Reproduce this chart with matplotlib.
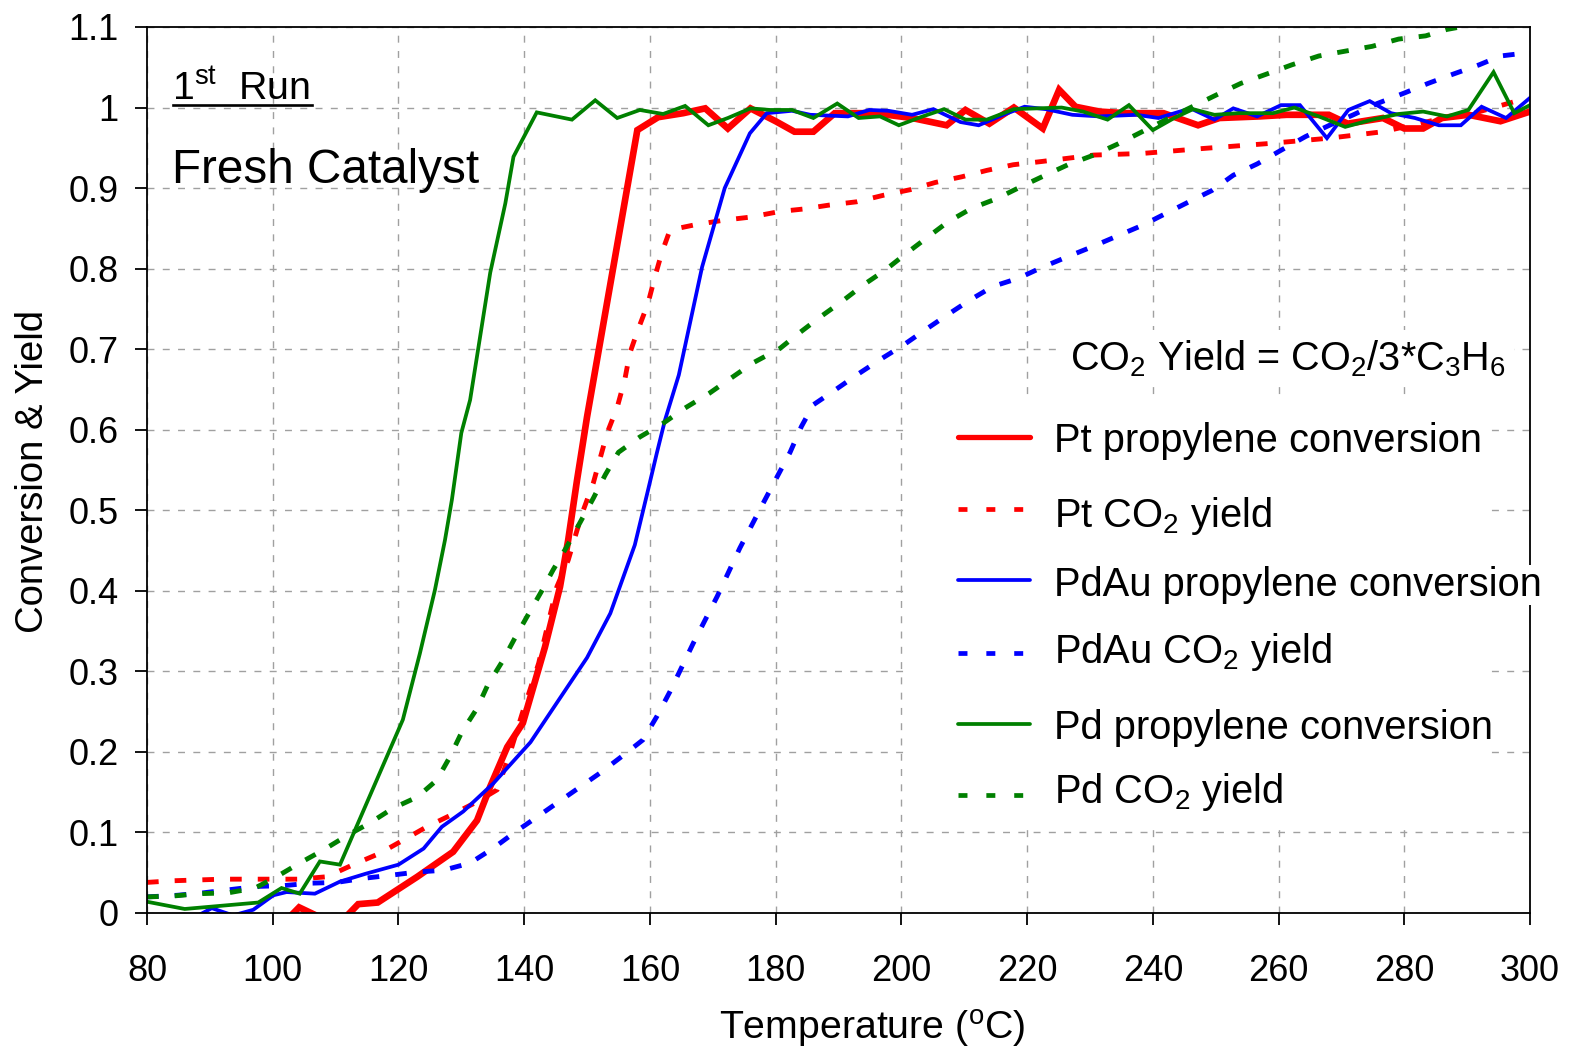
import matplotlib
matplotlib.use("Agg")
import matplotlib.pyplot as plt
from matplotlib.lines import Line2D
from matplotlib.patches import Rectangle

plt.rcParams['font.family'] = ['Liberation Sans', 'DejaVu Sans']
plt.rcParams['mathtext.fontset'] = 'custom'
plt.rcParams['mathtext.rm'] = 'Liberation Sans'
plt.rcParams['mathtext.default'] = 'regular'

# ---------------- data ----------------
pt_conv_T = [100.8, 104.2, 107.7, 111.0, 113.6, 116.7, 123.0, 128.7, 132.5, 134.6, 137.3, 139.8,
             143.3, 145.7, 147.0, 148.4, 150.0, 158.0, 161.3, 165.3, 168.8, 172.4, 176.0, 180.0,
             183.0, 186.0, 189.4, 195.7, 201.7, 207.2, 210.2, 214.0, 217.9, 222.5, 225.1, 227.7,
             231.5, 235.7, 241.7, 247.2, 250.6, 257.0, 261.3, 268.0, 271.0, 276.6, 280.0, 283.0,
             286.0, 290.2, 295.3, 300.0]
pt_conv = [-0.020, 0.007, -0.006, -0.010, 0.011, 0.013, 0.045, 0.076, 0.115, 0.157, 0.206, 0.236,
           0.330, 0.405, 0.463, 0.537, 0.616, 0.972, 0.988, 0.993, 0.999, 0.974, 0.999, 0.983,
           0.970, 0.970, 0.993, 0.993, 0.987, 0.978, 0.997, 0.980, 1.000, 0.974, 1.022, 1.001,
           0.995, 0.993, 0.993, 0.978, 0.987, 0.989, 0.991, 0.991, 0.980, 0.987, 0.974, 0.974,
           0.987, 0.991, 0.983, 0.995]

pt_yield_T = [80.0, 84.0, 88.0, 92.0, 96.0, 100.0, 104.0, 108.6, 112.8, 117.0, 120.2, 124.5, 128.2,
              132.5, 135.7, 137.8, 139.7, 142.3, 143.3, 145.2, 147.0, 148.4, 149.4, 151.0, 153.2,
              154.8, 156.0, 156.8, 158.1, 159.7, 160.8, 161.9, 163.2, 166.9, 171.6, 176.0, 180.7,
              184.4, 188.6, 192.9, 197.1, 201.4, 205.4, 209.6, 213.6, 217.8, 222.3, 230.6, 238.3,
              247.7, 257.9, 268.1, 276.6, 285.1, 292.0, 298.7]
pt_yield = [0.038, 0.040, 0.041, 0.042, 0.042, 0.042, 0.042, 0.045, 0.060, 0.074, 0.088, 0.107, 0.121,
            0.138, 0.153, 0.200, 0.248, 0.310, 0.343, 0.405, 0.438, 0.475, 0.500, 0.534, 0.596,
            0.628, 0.662, 0.695, 0.724, 0.757, 0.790, 0.820, 0.848, 0.854, 0.860, 0.864, 0.871,
            0.874, 0.879, 0.883, 0.891, 0.898, 0.907, 0.914, 0.922, 0.929, 0.933, 0.941, 0.943,
            0.949, 0.955, 0.962, 0.970, 0.985, 0.995, 1.010]

pdau_conv_T = [80.0, 86.5, 90.3, 93.7, 96.9, 100.1, 102.2, 106.7, 110.7, 114.9, 120.0, 124.0, 126.9,
               130.3, 135.1, 141.0, 150.0, 153.7, 157.6, 159.7, 161.1, 162.4, 164.6, 168.3, 171.9,
               175.9, 178.6, 182.6, 185.5, 191.5, 194.9, 197.9, 201.7, 205.1, 209.4, 212.3, 216.2,
               219.6, 223.0, 227.2, 231.5, 237.4, 240.9, 246.0, 249.8, 252.8, 256.6, 260.4, 263.4,
               267.7, 271.1, 274.5, 277.9, 281.7, 285.5, 289.0, 292.3, 296.2, 300.0]
pdau_conv = [-0.010, -0.010, 0.006, -0.003, 0.004, 0.022, 0.026, 0.024, 0.039, 0.049, 0.060, 0.080, 0.107,
             0.126, 0.161, 0.212, 0.317, 0.372, 0.457, 0.525, 0.571, 0.612, 0.668, 0.802, 0.900,
             0.968, 0.993, 0.996, 0.991, 0.989, 0.997, 0.996, 0.991, 0.998, 0.982, 0.978, 0.991,
             1.001, 0.998, 0.991, 0.989, 0.991, 0.987, 0.999, 0.985, 0.999, 0.989, 1.003, 1.003,
             0.962, 0.997, 1.008, 0.993, 0.987, 0.978, 0.978, 1.001, 0.987, 1.012]

pdau_yield_T = [80.0, 84.8, 88.9, 93.2, 97.5, 101.7, 106.0, 110.2, 114.4, 118.9, 123.1, 127.1, 131.4,
                135.0, 138.3, 142.0, 152.1, 155.8, 158.9, 161.1, 163.2, 166.9, 170.7, 174.3, 178.3,
                182.3, 184.1, 186.0, 189.4, 192.9, 196.6, 200.3, 203.8, 207.2, 210.9, 214.6, 218.6,
                222.5, 226.5, 230.3, 234.2, 238.4, 242.2, 245.5, 249.4, 252.8, 256.6, 260.4, 264.3,
                268.1, 271.9, 275.7, 280.0, 283.8, 287.6, 291.9, 295.3, 299.6]
pdau_yield = [0.020, 0.022, 0.025, 0.029, 0.033, 0.034, 0.037, 0.038, 0.043, 0.047, 0.051, 0.053, 0.062,
              0.080, 0.099, 0.119, 0.174, 0.196, 0.215, 0.244, 0.275, 0.335, 0.393, 0.453, 0.513,
              0.572, 0.604, 0.631, 0.649, 0.668, 0.687, 0.705, 0.724, 0.742, 0.761, 0.778, 0.788,
              0.802, 0.815, 0.827, 0.840, 0.854, 0.869, 0.882, 0.897, 0.916, 0.930, 0.947, 0.964,
              0.978, 0.991, 1.005, 1.018, 1.030, 1.041, 1.053, 1.064, 1.068]

pd_conv_T = [80.0, 86.0, 97.7, 101.4, 104.3, 107.5, 110.7, 120.7, 123.4, 125.8, 127.4, 128.5, 130.0,
             131.4, 134.6, 137.0, 138.3, 142.0, 147.6, 151.3, 154.8, 158.4, 162.1, 165.6, 169.3,
             172.4, 176.0, 179.1, 182.6, 186.0, 189.8, 193.2, 196.6, 199.6, 203.4, 206.8, 210.2,
             213.6, 217.9, 225.5, 228.9, 232.8, 236.2, 240.0, 243.4, 246.4, 249.8, 253.6, 259.1,
             262.5, 266.4, 270.6, 274.9, 279.1, 283.0, 286.8, 290.2, 294.2, 297.5, 300.0]
pd_conv = [0.014, 0.005, 0.013, 0.031, 0.024, 0.064, 0.060, 0.240, 0.322, 0.401, 0.463, 0.513, 0.596,
           0.637, 0.795, 0.881, 0.939, 0.994, 0.985, 1.009, 0.987, 0.997, 0.992, 1.002, 0.978,
           0.987, 0.999, 0.997, 0.997, 0.987, 1.005, 0.987, 0.989, 0.978, 0.989, 0.998, 0.985,
           0.985, 0.998, 1.000, 0.995, 0.985, 1.003, 0.972, 0.987, 0.998, 0.991, 0.993, 0.993,
           1.000, 0.989, 0.976, 0.985, 0.992, 0.995, 0.989, 0.997, 1.044, 0.993, 1.003]

pd_yield_T = [80.0, 84.0, 88.4, 92.9, 97.2, 100.6, 104.3, 108.0, 112.0, 115.5, 119.1, 123.0, 126.1,
              128.2, 130.1, 132.5, 134.2, 136.5, 138.5, 140.6, 142.8, 144.6, 146.8, 148.9, 151.0,
              152.9, 155.0, 158.4, 162.1, 165.6, 169.4, 172.7, 176.4, 180.7, 183.4, 187.1, 190.5,
              194.0, 197.4, 200.8, 204.0, 207.4, 211.2, 215.2, 219.1, 222.9, 226.5, 230.6, 234.5,
              238.3, 242.1, 246.0, 250.2, 254.0, 257.9, 262.1, 266.4, 270.6, 274.9, 279.1, 283.4,
              286.8, 291.0, 295.0]
pd_yield = [0.020, 0.021, 0.024, 0.025, 0.031, 0.045, 0.062, 0.078, 0.097, 0.112, 0.130, 0.144, 0.165,
            0.194, 0.225, 0.254, 0.283, 0.312, 0.341, 0.370, 0.400, 0.426, 0.455, 0.485, 0.515,
            0.544, 0.572, 0.591, 0.608, 0.627, 0.645, 0.663, 0.683, 0.701, 0.718, 0.740, 0.759,
            0.780, 0.798, 0.819, 0.838, 0.858, 0.875, 0.887, 0.902, 0.916, 0.929, 0.941, 0.955,
            0.970, 0.985, 1.000, 1.016, 1.030, 1.041, 1.053, 1.064, 1.070, 1.076, 1.085, 1.089,
            1.097, 1.103, 1.110]

labels = ['Pt propylene conversion', 'Pt CO$_2$ yield', 'PdAu propylene conversion',
          'PdAu CO$_2$ yield', 'Pd propylene conversion', 'Pd CO$_2$ yield']
x_ticks = [80, 100, 120, 140, 160, 180, 200, 220, 240, 260, 280, 300]
y_ticks = [0, 0.1, 0.2, 0.3, 0.4, 0.5, 0.6, 0.7, 0.8, 0.9, 1.0, 1.1]
y_tick_labels = ['0', '0.1', '0.2', '0.3', '0.4', '0.5', '0.6', '0.7', '0.8', '0.9', '1', '1.1']

# ---------------- figure ----------------
W, H = 1570, 1050
fig = plt.figure(figsize=(W / 100, H / 100), dpi=100)
AX_L, AX_R, AX_T, AX_B = 147, 1530, 27, 913
ax = fig.add_axes([AX_L / W, 1 - AX_B / H, (AX_R - AX_L) / W, (AX_B - AX_T) / H])


def axf(px, py):
    return (px - AX_L) / (AX_R - AX_L), (AX_B - py) / (AX_B - AX_T)


dot = (0, (2.4, 3.3))
series = [
    (pt_conv_T, pt_conv, 'red', 4.8, '-'),
    (pt_yield_T, pt_yield, 'red', 3.5, dot),
    (pdau_conv_T, pdau_conv, 'blue', 2.7, '-'),
    (pdau_yield_T, pdau_yield, 'blue', 3.5, dot),
    (pd_conv_T, pd_conv, 'green', 2.7, '-'),
    (pd_yield_T, pd_yield, 'green', 3.5, dot),
]
for T, v, c, lw, ls in series:
    ax.plot(T, v, color=c, lw=lw, ls=ls, solid_joinstyle='miter', dash_capstyle='butt', zorder=2)

ax.set_xlim(80, 300)
ax.set_ylim(0, 1.1)
ax.set_xticks(x_ticks)
ax.set_yticks(y_ticks)
ax.set_yticklabels(y_tick_labels)
ax.grid(True, color='#a0a0a0', linestyle=(0, (5, 6)), linewidth=1.0)
ax.tick_params(axis='both', direction='out', length=8.6, width=1.3, labelsize=26)
ax.tick_params(axis='x', pad=21)
ax.tick_params(axis='y', pad=12)
for s in ax.spines.values():
    s.set_linewidth(1.3)
    s.set_color('black')

ax.set_xlabel('Temperature ($^{o}$C)', fontsize=28.3)
ax.xaxis.set_label_coords(*axf(872.5, 1040))
ax.xaxis.label.set_va('baseline')
ax.set_ylabel('Conversion & Yield', fontsize=27.5)
ax.yaxis.set_label_coords(*axf(43, 471.5))
ax.yaxis.label.set_va('baseline')

# annotations
ax.text(*axf(172, 100), '1$^{st}$  Run', transform=ax.transAxes, fontsize=28.3,
        ha='left', va='baseline')
ax.add_line(Line2D([axf(173, 0)[0], axf(312, 0)[0]], [axf(0, 104.5)[1]] * 2,
                   transform=ax.transAxes, color='black', lw=1.9, clip_on=False))
ax.text(*axf(172, 183), 'Fresh Catalyst', transform=ax.transAxes, fontsize=34.3,
        ha='left', va='baseline')
ax.text(*axf(1070, 370), 'CO$_2$ Yield = CO$_2$/3*C$_3$H$_6$', transform=ax.transAxes,
        fontsize=28.5, ha='left', va='baseline', zorder=6,
        bbox=dict(facecolor='white', edgecolor='none', pad=6))

# legend (manually laid out like the reference)
x0, y0 = axf(905, 830)
x1, y1 = axf(1488, 402)
ax.add_patch(Rectangle((x0, y0), x1 - x0, y1 - y0, transform=ax.transAxes,
                       facecolor='white', edgecolor='none', zorder=3))
handle_y = [436.7, 509.3, 580.3, 653.3, 724.0, 795.3]
text_base = [451.7, 526.7, 596.0, 663.3, 739.3, 803.3]
leg_dot = (0, (1.9, 4.0))
for i, (T, v, c, lw, ls) in enumerate(series):
    hls = ls if ls == '-' else leg_dot
    hlw = (3.8 if i == 0 else 2.7) if ls == '-' else 3.4
    ax.add_line(Line2D([axf(958, 0)[0], axf(1030, 0)[0]], [axf(0, handle_y[i])[1]] * 2,
                       transform=ax.transAxes, color=c, lw=hlw, ls=hls,
                       solid_capstyle='round', dash_capstyle='butt', clip_on=False, zorder=6))
    t = ax.text(*axf(1054, text_base[i]), labels[i], transform=ax.transAxes, fontsize=28.7,
                ha='left', va='baseline', zorder=6)
    if i == 2:
        t.set_bbox(dict(facecolor='white', edgecolor='none', pad=1))

fig.savefig('out.png', dpi=100)
